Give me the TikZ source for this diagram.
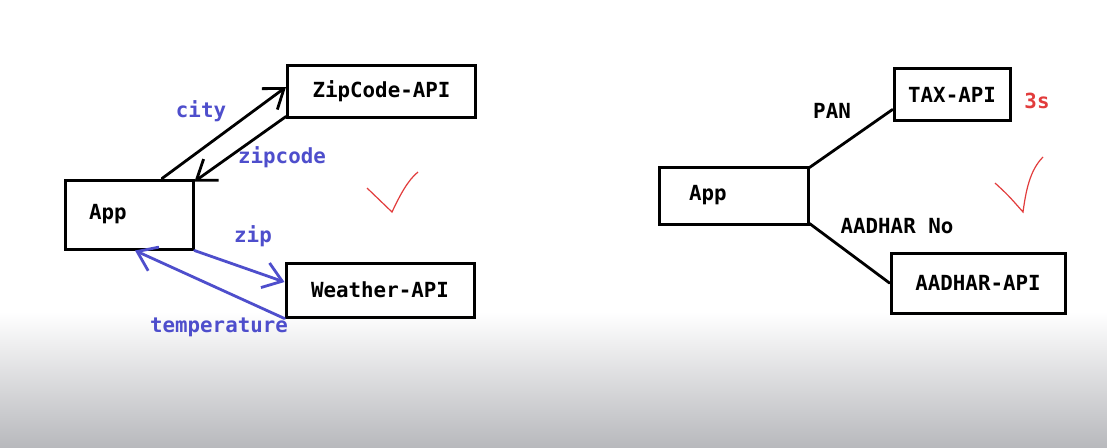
\documentclass[tikz,border=0pt]{standalone}
\usepackage{fontspec}
\newfontfamily\boardfont{DejaVu Sans Mono}
\usetikzlibrary{arrows.meta,calc}
\definecolor{penblue}{RGB}{78,78,204}
\definecolor{penred}{RGB}{226,60,60}
\definecolor{screengray}{RGB}{184,185,189}
\tikzset{
  box/.style={draw,line width=1.5pt,minimum height=26pt,inner sep=0pt,
    font=\boardfont\bfseries\fontsize{10.4}{12}\selectfont},
  lab/.style={font=\boardfont\bfseries\fontsize{10.4}{12}\selectfont,inner sep=0pt},
  blab/.style={lab,text=penblue},
  penline/.style={line width=1.4pt,line cap=round},
  barb/.style={-{Straight Barb[length=9pt,width=13pt,line width=1.4pt]}},
}
\begin{document}
\begin{tikzpicture}[x=0.5pt,y=-0.5pt]
\useasboundingbox (0,0) rectangle (1107,447);
\fill[white] (0,0) rectangle (1107,447);
\shade[top color=white,bottom color=screengray] (0,312) rectangle (1107,447);

% left picture
\node[box,minimum width=64pt,text width=40pt,align=left,minimum height=34.5pt] (appA) at (129,214.5) {App};
\node[box,minimum width=94pt] (zipapi) at (381.5,91) {ZipCode-API};
\node[box,minimum width=94pt,minimum height=27pt] (weaapi) at (380,290) {Weather-API};

\draw[penline,barb] ([xshift=16.5pt]appA.north) -- ([yshift=2pt]zipapi.west);
\draw[penline,barb] ([yshift=1pt]zipapi.south west) -- ([yshift=-1.5pt]appA.north east);
\draw[penline,barb,penblue] (appA.south east) -- ([yshift=4pt]weaapi.west);
\draw[penline,barb,penblue] (weaapi.south west) -- ([xshift=3pt]appA.south);

\node[blab] (city) at (201,111) {city};
\node[blab] (zipcode) at (282,157) {zipcode};
\node[blab] (zip) at (253,236) {zip};
\node[blab] (temp) at (219,327) {temperature};

\draw[penred,line width=0.6pt] (367,188) .. controls (380,200) .. (392,212)
  .. controls (400,195) and (408,180) .. (418,172);

% right picture
\node[box,minimum width=74.5pt,text width=44.5pt,align=left,minimum height=28.5pt] (appB) at (733.5,195.5) {App};
\node[box,minimum width=58pt] (taxapi) at (952,94.5) {TAX-API};
\node[box,minimum width=87pt,minimum height=30pt] (aadapi) at (978,283) {AADHAR-API};

\draw[penline] ([yshift=-1pt]appB.north east) -- ([yshift=-7.5pt]taxapi.west);
\draw[penline] ([yshift=1pt]appB.south east) -- (aadapi.west);

\node[lab] (pan) at (832,111) {PAN};
\node[lab] (aadno) at (897,226) {AADHAR No};
\node[lab,text=penred] (secs) at (1037,101) {3s};

\draw[penred,line width=0.6pt] (995,183) .. controls (1008,195) .. (1023,212)
  .. controls (1026,190) and (1030,170) .. (1043,157);
\end{tikzpicture}
\end{document}
